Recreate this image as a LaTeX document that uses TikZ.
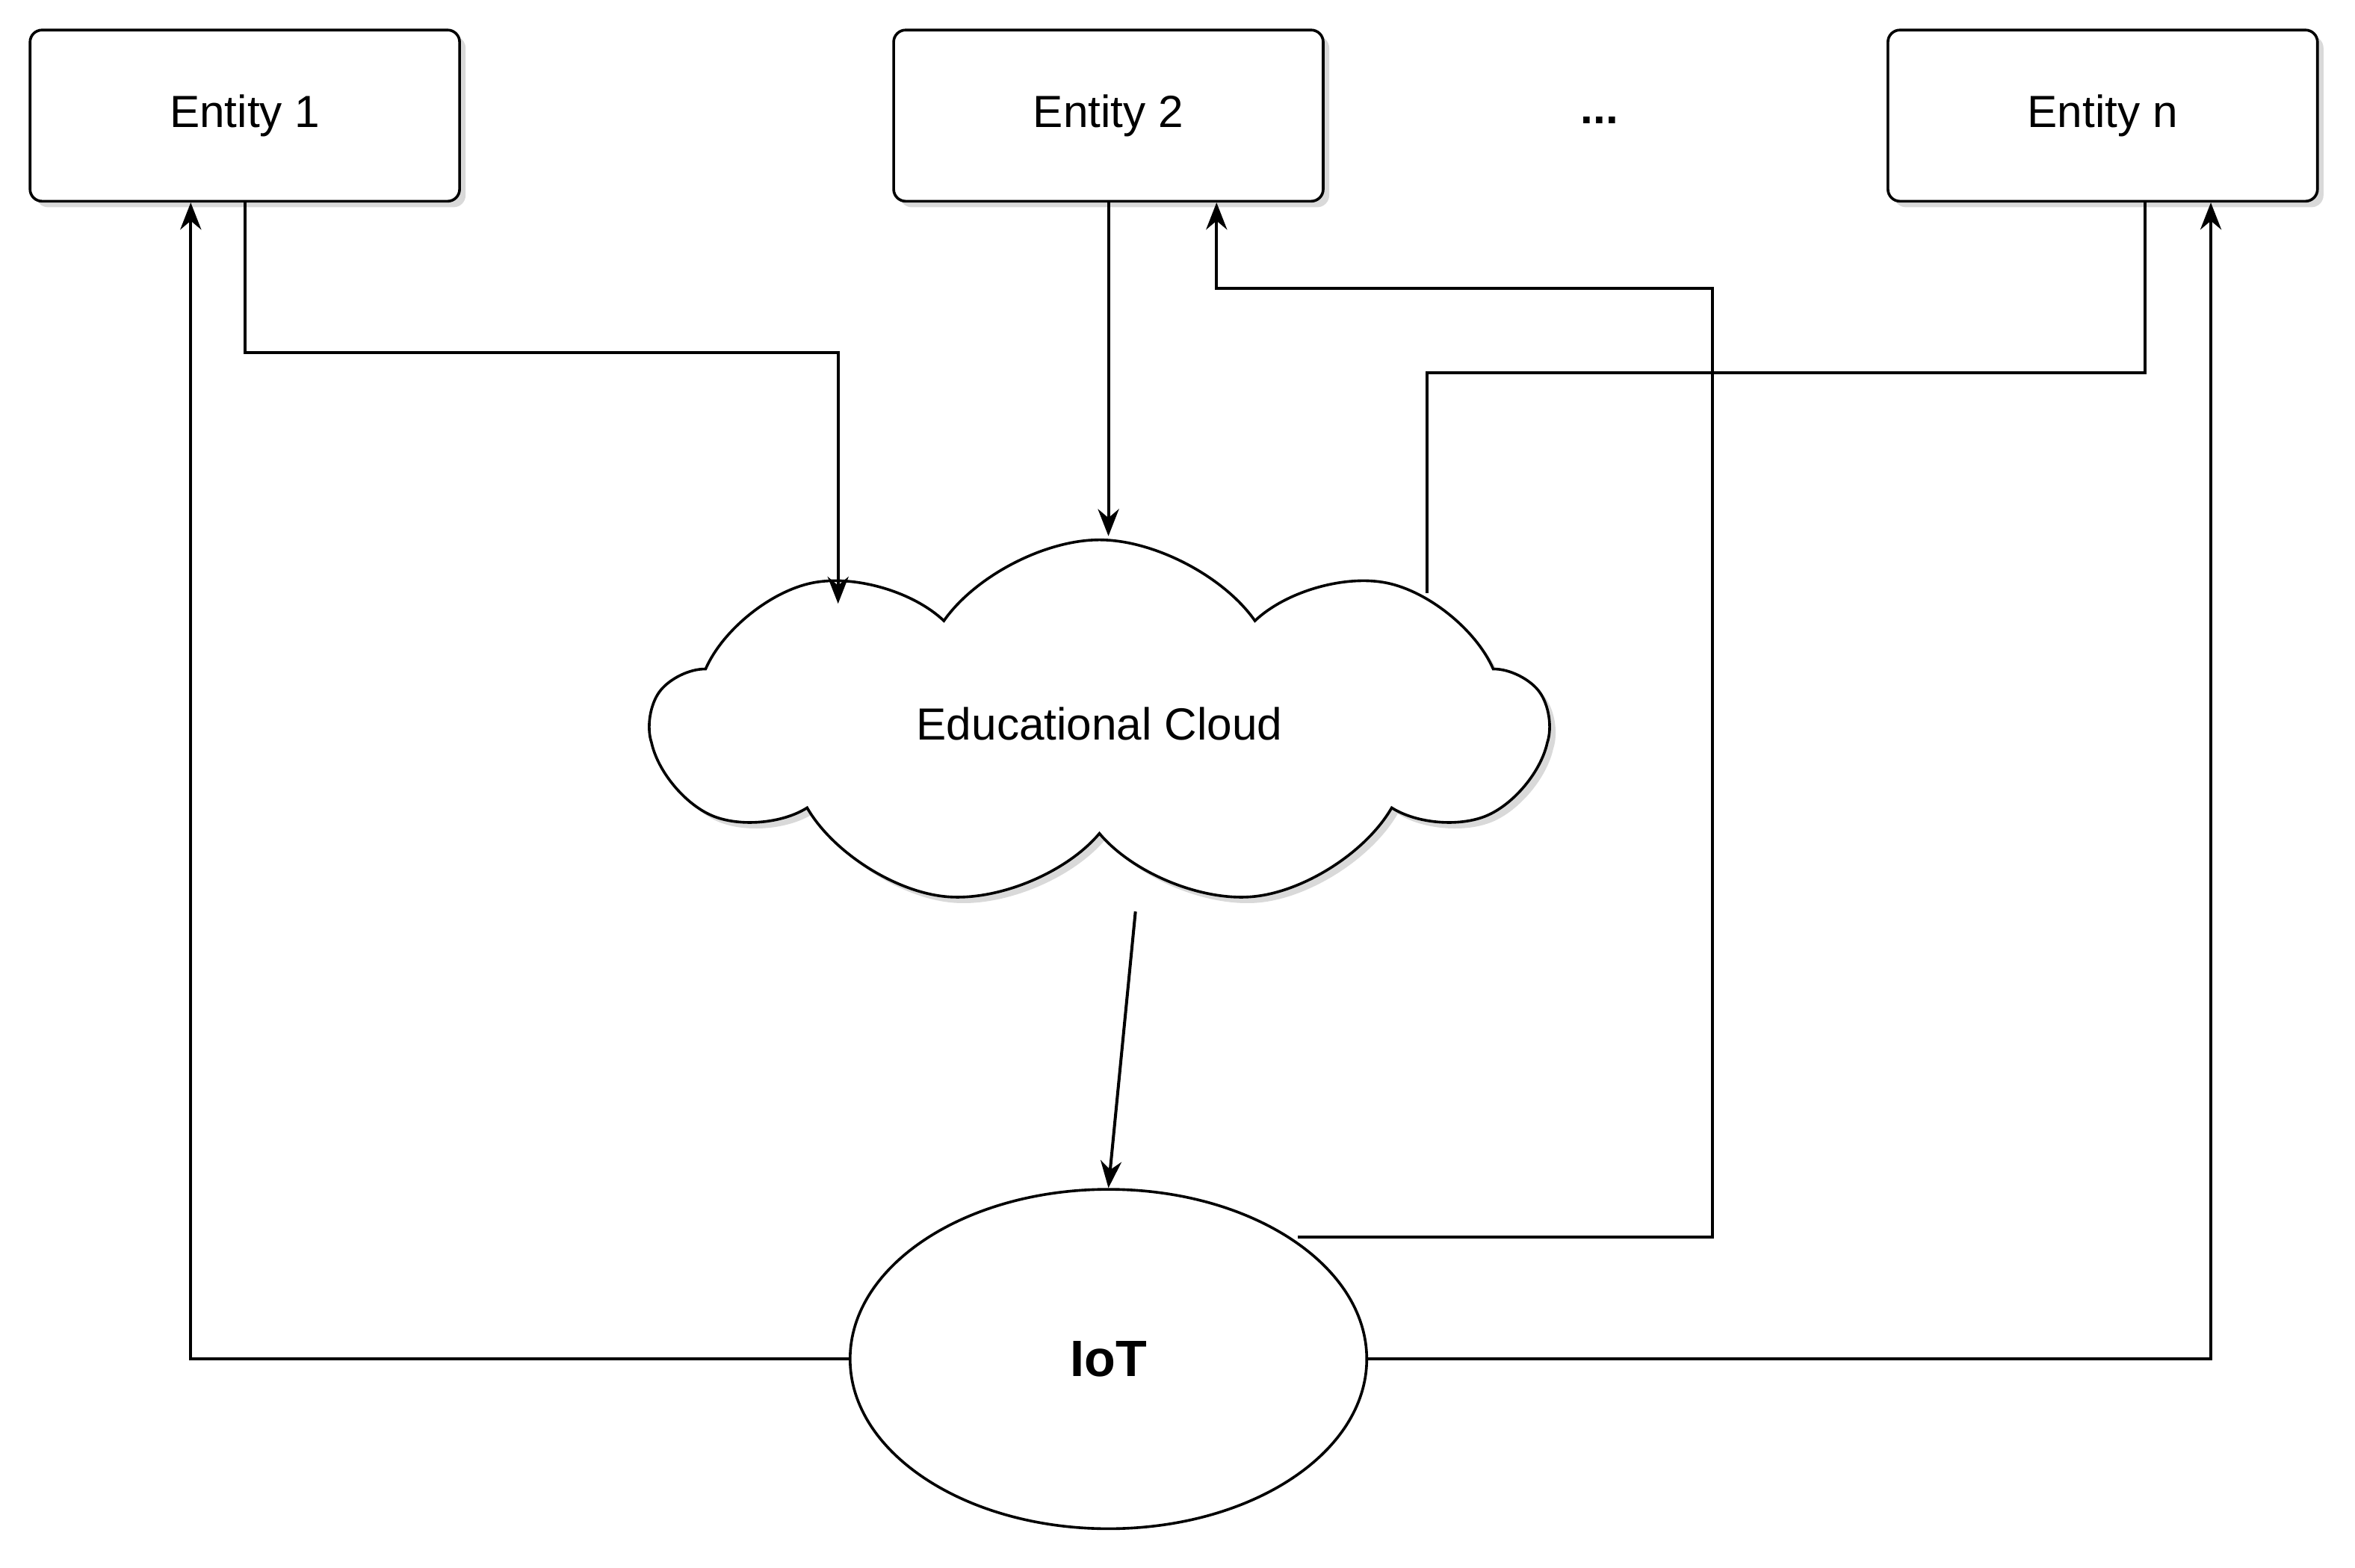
\documentclass[tikz,border=0pt]{standalone}
\usepackage{fontspec}
\setmainfont{Liberation Sans}
\usetikzlibrary{shapes.symbols,shapes.geometric,shadows,arrows.meta}
\begin{document}
\begin{tikzpicture}[x=1pt,y=-1pt,
  ent/.style={draw,line width=1.8pt,rounded corners=8pt,minimum width=286pt,minimum height=114pt,fill=white,drop shadow={shadow xshift=4pt,shadow yshift=-4pt,opacity=0.3},font=\fontsize{30}{36}\selectfont},
  con/.style={line width=2pt},
  arr/.style={con,-{Stealth[length=18pt,width=14pt]}}]
\useasboundingbox (0,0) rectangle (1568,1044);
\node[ent] (e1) at (163,77) {Entity 1};
\node[ent] (e2) at (738,77) {Entity 2};
\node[ent] (en) at (1400,77) {Entity n};
\node[font=\fontsize{30}{36}\selectfont\bfseries] (dots) at (1065,80) {...};
\node[cloud,draw,line width=1.8pt,cloud puffs=9,cloud puff arc=110,aspect=2.4,minimum width=595pt,minimum height=245pt,inner sep=0pt,fill=white,drop shadow={shadow xshift=4pt,shadow yshift=-4pt,opacity=0.3},font=\fontsize{30}{36}\selectfont] (c) at (732,482) {Educational Cloud};
\node[ellipse,draw,line width=1.8pt,minimum width=344pt,minimum height=226pt,fill=white,font=\fontsize{34}{40}\selectfont\bfseries] (iot) at (738,905) {IoT};
\coordinate (c1) at (558,402);
\coordinate (c2) at (738,357);
\coordinate (c3) at (950,395);
\coordinate (i1) at (864,824);
\draw[arr] (e1.south -| 163,0) -- (163,235) -- (558,235) -- (c1);
\draw[arr] (e2.south) -- (c2);
\draw[con] (en.south -| 1428,0) -- (1428,248) -- (950,248) -- (c3);
\draw[arr] (756,607) -- (iot.north);
\draw[arr] (i1) -- (1140,824) -- (1140,192) -- (810,192) -- (e2.south -| 810,0);
\draw[arr] (iot.west) -- (127,905) -- (e1.south -| 127,0);
\draw[arr] (iot.east) -- (1472,905) -- (en.south -| 1472,0);
\end{tikzpicture}
\end{document}
